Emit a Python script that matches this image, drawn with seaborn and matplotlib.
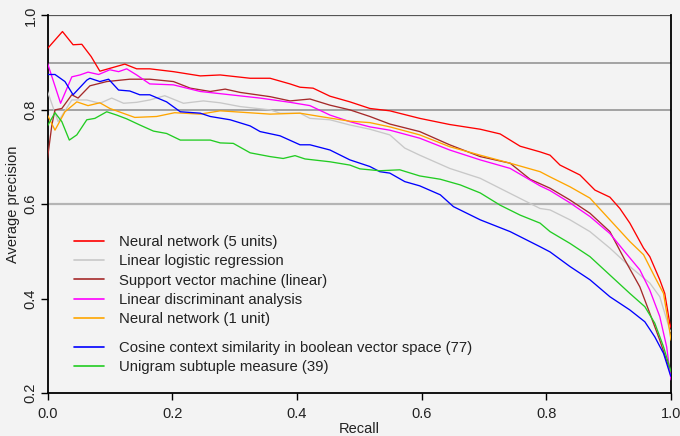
import numpy as np
import pandas as pd
import matplotlib
matplotlib.use("Agg")
import matplotlib.pyplot as plt
import seaborn as sns
from matplotlib.lines import Line2D

# ---------------- data ----------------
labels = [
    "Neural network (5 units)",
    "Linear logistic regression",
    "Support vector machine (linear)",
    "Linear discriminant analysis",
    "Neural network (1 unit)",
    "Cosine context similarity in boolean vector space (77)",
    "Unigram subtuple measure (39)",
]
colors = ["#ff0000", "#c8c8c8", "#a52a2a", "#ff00ff", "#ffa500", "#0000ff", "#22cc22"]

nn5_x = [0, 0.024, 0.041, 0.055, 0.07, 0.084, 0.124, 0.143, 0.164, 0.202, 0.245, 0.277, 0.325, 0.357, 0.389,
         0.405, 0.426, 0.453, 0.485, 0.517, 0.549, 0.597, 0.645, 0.694, 0.726, 0.758, 0.790, 0.806, 0.822,
         0.854, 0.878, 0.902, 0.918, 0.934, 0.956, 0.966, 0.982, 0.990, 0.998, 1.0]
nn5_y = [0.930, 0.966, 0.938, 0.939, 0.913, 0.882, 0.897, 0.887, 0.887, 0.881, 0.872, 0.874, 0.867, 0.867, 0.855,
         0.848, 0.846, 0.829, 0.817, 0.803, 0.798, 0.782, 0.769, 0.759, 0.749, 0.723, 0.711, 0.704, 0.683,
         0.662, 0.630, 0.615, 0.591, 0.560, 0.507, 0.489, 0.440, 0.411, 0.348, 0.338]

llr_x = [0, 0.017, 0.039, 0.063, 0.084, 0.103, 0.122, 0.143, 0.164, 0.188, 0.218, 0.250, 0.277, 0.309, 0.357,
         0.373, 0.405, 0.421, 0.453, 0.485, 0.517, 0.549, 0.573, 0.597, 0.645, 0.694, 0.742, 0.790, 0.806,
         0.838, 0.870, 0.902, 0.934, 0.966, 0.982, 0.998, 1.0]
llr_y = [0.839, 0.775, 0.821, 0.821, 0.814, 0.825, 0.814, 0.816, 0.821, 0.830, 0.814, 0.819, 0.815, 0.807, 0.800,
         0.793, 0.793, 0.782, 0.779, 0.768, 0.759, 0.747, 0.719, 0.704, 0.676, 0.655, 0.623, 0.591, 0.588,
         0.567, 0.542, 0.507, 0.468, 0.433, 0.404, 0.334, 0.330]

svm_x = [0, 0.007, 0.012, 0.023, 0.039, 0.049, 0.068, 0.095, 0.132, 0.164, 0.202, 0.229, 0.261, 0.285, 0.309,
         0.357, 0.389, 0.421, 0.453, 0.485, 0.517, 0.549, 0.597, 0.645, 0.694, 0.742, 0.774, 0.806, 0.838,
         0.870, 0.902, 0.926, 0.950, 0.966, 0.982, 0.998, 1.0]
svm_y = [0.697, 0.768, 0.800, 0.803, 0.832, 0.825, 0.851, 0.860, 0.865, 0.865, 0.860, 0.846, 0.839, 0.844, 0.837,
         0.828, 0.819, 0.823, 0.810, 0.800, 0.786, 0.770, 0.754, 0.726, 0.701, 0.687, 0.653, 0.634, 0.609,
         0.581, 0.542, 0.482, 0.425, 0.369, 0.312, 0.249, 0.245]

lda_x = [0, 0.021, 0.039, 0.052, 0.065, 0.082, 0.1, 0.114, 0.127, 0.143, 0.164, 0.202, 0.245, 0.293, 0.341,
         0.389, 0.421, 0.453, 0.485, 0.517, 0.549, 0.597, 0.645, 0.694, 0.742, 0.790, 0.806, 0.838, 0.870,
         0.902, 0.926, 0.950, 0.966, 0.982, 0.993, 1.0]
lda_y = [0.899, 0.814, 0.870, 0.874, 0.880, 0.875, 0.885, 0.881, 0.887, 0.874, 0.855, 0.853, 0.839, 0.832, 0.825,
         0.816, 0.809, 0.789, 0.775, 0.764, 0.757, 0.740, 0.715, 0.694, 0.676, 0.639, 0.629, 0.603, 0.574,
         0.538, 0.499, 0.461, 0.418, 0.362, 0.298, 0.228]

nn1_x = [0, 0.012, 0.028, 0.047, 0.065, 0.084, 0.1, 0.140, 0.175, 0.204, 0.245, 0.277, 0.357, 0.405, 0.437,
         0.485, 0.517, 0.549, 0.597, 0.645, 0.694, 0.742, 0.790, 0.806, 0.838, 0.870, 0.902, 0.934, 0.956,
         0.974, 0.988, 0.998, 1.0]
nn1_y = [0.789, 0.757, 0.796, 0.817, 0.809, 0.815, 0.803, 0.784, 0.786, 0.794, 0.791, 0.798, 0.791, 0.793, 0.786,
         0.776, 0.773, 0.764, 0.747, 0.722, 0.704, 0.687, 0.669, 0.658, 0.637, 0.613, 0.567, 0.521, 0.493,
         0.446, 0.411, 0.330, 0.312]

cos_x = [0, 0.012, 0.028, 0.041, 0.063, 0.068, 0.084, 0.098, 0.114, 0.132, 0.148, 0.164, 0.191, 0.213, 0.245,
         0.261, 0.293, 0.325, 0.341, 0.373, 0.405, 0.421, 0.453, 0.485, 0.517, 0.533, 0.549, 0.573, 0.597,
         0.630, 0.651, 0.694, 0.742, 0.790, 0.806, 0.838, 0.870, 0.902, 0.934, 0.958, 0.974, 0.988, 0.998, 1.0]
cos_y = [0.875, 0.875, 0.860, 0.832, 0.863, 0.867, 0.860, 0.865, 0.842, 0.840, 0.832, 0.832, 0.817, 0.796, 0.793,
         0.786, 0.779, 0.766, 0.754, 0.745, 0.726, 0.726, 0.715, 0.694, 0.680, 0.669, 0.666, 0.648, 0.639,
         0.620, 0.595, 0.567, 0.542, 0.510, 0.499, 0.468, 0.440, 0.404, 0.376, 0.351, 0.319, 0.284, 0.242, 0.235]

uni_x = [0, 0.012, 0.023, 0.035, 0.047, 0.063, 0.076, 0.095, 0.111, 0.127, 0.148, 0.170, 0.191, 0.213, 0.245,
         0.261, 0.277, 0.298, 0.325, 0.357, 0.378, 0.397, 0.413, 0.453, 0.485, 0.501, 0.533, 0.565, 0.597,
         0.630, 0.662, 0.694, 0.726, 0.758, 0.790, 0.806, 0.838, 0.870, 0.902, 0.934, 0.958, 0.974, 0.988, 1.0]
uni_y = [0.766, 0.794, 0.775, 0.736, 0.747, 0.779, 0.782, 0.796, 0.789, 0.781, 0.768, 0.755, 0.750, 0.736, 0.736,
         0.736, 0.730, 0.729, 0.709, 0.701, 0.697, 0.703, 0.696, 0.690, 0.683, 0.675, 0.671, 0.673, 0.660,
         0.653, 0.641, 0.624, 0.598, 0.577, 0.560, 0.542, 0.517, 0.489, 0.450, 0.411, 0.383, 0.348, 0.298, 0.245]

ref_lines = [1.0, 0.9, 0.8, 0.6]
ref_colors = ["#555555", "#8c8c8c", "#8c8c8c", "#b4b4b4"]
ref_widths = [1.6, 1.1, 1.1, 1.6]

x_ticks = [0.0, 0.2, 0.4, 0.6, 0.8, 1.0]
y_ticks = [0.2, 0.4, 0.6, 0.8, 1.0]

series_x = [nn5_x, llr_x, svm_x, lda_x, nn1_x, cos_x, uni_x]
series_y = [nn5_y, llr_y, svm_y, lda_y, nn1_y, cos_y, uni_y]

frames = []
for lab, xs, ys in zip(labels, series_x, series_y):
    frames.append(pd.DataFrame({"Recall": xs, "Average precision": ys, "method": lab}))
df = pd.concat(frames, ignore_index=True)

# ---------------- plot ----------------
sns.set_theme(style="ticks")
bg = "#f3f3f3"
plt.rcParams["font.family"] = ["Liberation Sans", "DejaVu Sans"]
plt.rcParams["text.color"] = "#222222"

fig = plt.figure(figsize=(6.8, 4.36), dpi=100, facecolor=bg)
ax = fig.add_axes([47.5 / 680, 1 - 393 / 436, (671 - 47.5) / 680, (393 - 15.5) / 436])
ax.set_facecolor(bg)

for yv, c, w in zip(ref_lines, ref_colors, ref_widths):
    ax.axhline(yv, color=c, lw=w, zorder=1)

palette = dict(zip(labels, colors))
sns.lineplot(data=df, x="Recall", y="Average precision", hue="method", hue_order=labels,
             palette=palette, sort=False, estimator=None, lw=0.95, legend=False, ax=ax, zorder=3)

ax.set_xlim(0, 1)
ax.set_ylim(0.2, 1.0)
ax.set_xticks(x_ticks)
ax.set_xticklabels([f"{v:.1f}" for v in x_ticks])
ax.set_yticks(y_ticks)
ax.set_yticklabels([f"{v:.1f}" for v in y_ticks], rotation=90, va="center")
ax.tick_params(axis="both", direction="out", length=5, width=1, color="black",
               labelsize=10.5, labelcolor="#222222")
ax.tick_params(axis="x", pad=5)
ax.tick_params(axis="y", pad=2)
for s in ["left", "bottom", "right"]:
    ax.spines[s].set_color("black")
    ax.spines[s].set_linewidth(1.3)
ax.spines["top"].set_visible(False)

ax.set_xlabel("Recall", fontsize=10.5, color="#222222", labelpad=1)
ax.set_ylabel("Average precision", fontsize=10.5, color="#222222", labelpad=3)

handles = [Line2D([0], [0], color=c, lw=1.2) for c in colors]
leg_kw = dict(loc="upper left", bbox_transform=fig.transFigure, frameon=False, fontsize=10.7,
              handlelength=2.0, handletextpad=1.0, labelspacing=0.36, borderpad=0, borderaxespad=0)
leg1 = ax.legend(handles[:5], labels[:5], bbox_to_anchor=(74 / 680, 1 - 235 / 436), **leg_kw)
ax.add_artist(leg1)
leg2 = ax.legend(handles[5:], labels[5:], bbox_to_anchor=(74 / 680, 1 - 341 / 436), **leg_kw)

fig.savefig("out.png", dpi=100, facecolor=bg)
